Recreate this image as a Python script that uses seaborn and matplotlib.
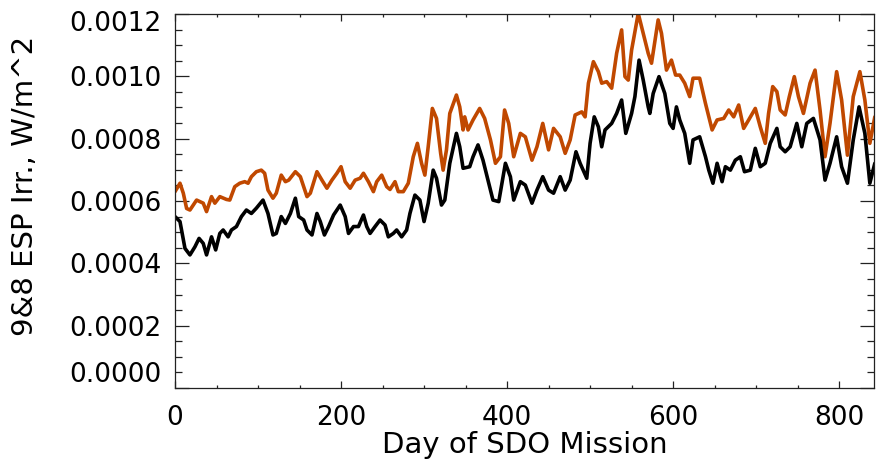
import matplotlib
matplotlib.use("Agg")
import matplotlib.pyplot as plt
import matplotlib.transforms as mtransforms
from matplotlib.ticker import MultipleLocator, FormatStrFormatter
import numpy as np
import pandas as pd
import seaborn as sns

# ---- data (irradiance in 1e-4 W/m^2) ----
orange_day = [0, 6, 10, 14, 18, 26, 34, 38, 44, 48, 54, 62, 66, 72, 78, 84, 88, 92, 98, 104,
              108, 112, 118, 122, 128, 133, 137, 145, 151, 155, 159, 163, 171, 177, 183, 189,
              195, 200, 205, 211, 217, 223, 227, 233, 239, 243, 249, 255, 259, 265, 269, 275,
              281, 287, 292, 297, 301, 305, 310, 315, 320, 323, 327, 331, 339, 343, 347, 349,
              353, 359, 367, 373, 380, 386, 392, 397, 402, 408, 416, 422, 430, 436, 443, 450,
              456, 464, 470, 476, 482, 490, 494, 498, 504, 510, 514, 520, 526, 532, 538, 542,
              546, 550, 558, 564, 570, 574, 582, 586, 592, 598, 603, 608, 614, 620, 624, 632,
              639, 647, 653, 661, 667, 673, 679, 685, 691, 699, 705, 711, 715, 720, 725, 729,
              735, 740, 746, 751, 757, 765, 771, 777, 783, 789, 797, 803, 810, 817, 825, 831,
              837, 843]
orange_val = [6.30, 6.57, 6.25, 5.76, 5.71, 6.03, 5.93, 5.66, 6.14, 5.93, 6.14, 6.05, 6.03, 6.46,
              6.57, 6.62, 6.57, 6.78, 6.94, 6.99, 6.89, 6.35, 6.09, 6.25, 6.83, 6.62, 6.67, 6.94,
              6.78, 6.46, 6.14, 6.25, 6.94, 6.67, 6.41, 6.67, 6.89, 7.10, 6.62, 6.41, 6.67, 6.73,
              6.89, 6.62, 6.30, 6.62, 6.83, 6.46, 6.37, 6.62, 6.30, 6.30, 6.57, 7.42, 7.85, 7.21,
              6.83, 7.74, 8.97, 8.65, 7.53, 6.99, 7.64, 8.81, 9.40, 9.02, 8.28, 8.70, 8.28, 8.60,
              8.97, 8.65, 7.96, 7.21, 7.42, 8.92, 8.49, 7.42, 8.17, 8.06, 7.31, 7.74, 8.49, 7.64,
              8.33, 8.06, 7.53, 7.96, 8.76, 8.86, 8.70, 9.78, 10.47, 10.15, 9.78, 9.83, 9.62, 10.74,
              11.49, 9.99, 9.88, 10.84, 12.02, 11.38, 10.74, 10.42, 11.81, 11.38, 10.20, 10.52,
              10.04, 10.04, 9.78, 9.35, 9.94, 9.94, 9.13, 8.28, 8.60, 8.65, 8.92, 8.70, 9.08, 8.33,
              8.60, 8.97, 8.38, 7.85, 8.81, 9.67, 9.51, 8.92, 8.76, 9.35, 9.99, 9.35, 8.81, 9.78,
              10.20, 8.92, 7.42, 8.49, 10.15, 9.24, 7.47, 9.35, 10.15, 9.24, 7.85, 8.70]

black_day = [0, 6, 12, 18, 24, 29, 34, 38, 44, 49, 54, 58, 64, 68, 74, 80, 86, 92, 98, 106,
             112, 118, 122, 128, 133, 139, 145, 149, 155, 159, 165, 171, 175, 180, 185, 191,
             199, 205, 209, 215, 221, 227, 231, 235, 241, 247, 253, 257, 263, 267, 273, 279,
             283, 289, 295, 300, 305, 311, 315, 321, 325, 331, 339, 343, 347, 355, 359, 365,
             371, 377, 383, 390, 398, 404, 408, 416, 422, 430, 436, 443, 450, 456, 464, 470,
             476, 483, 488, 496, 500, 505, 510, 514, 518, 526, 532, 538, 543, 550, 554, 559,
             564, 570, 572, 576, 583, 590, 596, 600, 604, 608, 614, 620, 624, 632, 639, 643,
             648, 653, 659, 663, 669, 675, 681, 686, 693, 699, 705, 711, 717, 725, 729, 735,
             741, 749, 755, 761, 769, 777, 783, 789, 797, 803, 810, 817, 824, 831, 837, 843]
black_val = [5.50, 5.34, 4.48, 4.27, 4.53, 4.80, 4.64, 4.27, 4.85, 4.43, 4.96, 5.07, 4.85, 5.07,
             5.18, 5.50, 5.71, 5.60, 5.77, 6.03, 5.60, 4.91, 4.96, 5.50, 5.28, 5.60, 6.09, 5.50,
             5.39, 5.07, 4.91, 5.60, 5.34, 4.91, 5.18, 5.55, 5.87, 5.50, 4.96, 5.18, 5.18, 5.55,
             5.18, 4.96, 5.18, 5.39, 5.23, 4.85, 4.96, 5.07, 4.85, 5.07, 5.60, 6.19, 6.03, 5.34,
             5.93, 6.99, 6.73, 5.87, 6.03, 7.21, 8.17, 7.74, 7.05, 7.10, 7.42, 7.80, 7.31, 6.67,
             6.03, 5.98, 7.21, 6.78, 6.03, 6.62, 6.51, 5.93, 6.35, 6.78, 6.35, 6.25, 6.78, 6.35,
             6.67, 7.58, 7.21, 6.73, 7.85, 8.70, 8.38, 7.74, 8.28, 8.49, 8.81, 9.24, 8.17, 8.81,
             9.35, 10.52, 9.88, 9.02, 8.81, 9.45, 9.99, 9.45, 8.49, 8.33, 9.02, 8.60, 8.17, 7.21,
             7.96, 8.06, 7.42, 6.99, 6.57, 7.21, 6.62, 7.10, 6.99, 7.31, 7.42, 6.94, 6.99, 7.69,
             7.10, 7.21, 7.85, 8.33, 7.74, 7.58, 7.74, 8.49, 7.74, 8.49, 8.65, 7.96, 6.67, 7.21,
             8.06, 7.10, 6.57, 7.96, 9.02, 8.17, 6.57, 7.21]

x_label = "Day of SDO Mission"
y_label = "9&8 ESP Irr., W/m^2"

orange_df = pd.DataFrame({"day": orange_day, "irr": np.array(orange_val) * 1e-4})
black_df = pd.DataFrame({"day": black_day, "irr": np.array(black_val) * 1e-4})

sns.set_style("white")
plt.rcParams["font.family"] = ["DejaVu Sans"]

fig = plt.figure(figsize=(8.76, 4.68), dpi=100)
ax = fig.add_axes([175 / 876, 80 / 468, 699 / 876, 374 / 468])

sns.lineplot(data=orange_df, x="day", y="irr", ax=ax, color="#C04800", linewidth=2.6)
sns.lineplot(data=black_df, x="day", y="irr", ax=ax, color="black", linewidth=2.6)

ax.set_xlim(0, 842)
ax.set_ylim(0, 0.0012)
ax.xaxis.set_major_locator(MultipleLocator(200))
ax.xaxis.set_minor_locator(MultipleLocator(50))
ax.yaxis.set_major_locator(MultipleLocator(0.0002))
ax.yaxis.set_minor_locator(MultipleLocator(0.00005))
ax.yaxis.set_major_formatter(FormatStrFormatter("%.4f"))

for s in ax.spines.values():
    s.set_visible(True)
    s.set_linewidth(0.9)
    s.set_color("#222222")

ax.tick_params(axis="both", which="both", direction="in",
               bottom=True, left=True, top=True, right=True,
               colors="#222222", width=0.9, labelcolor="black", labelsize=19)
ax.tick_params(axis="x", which="major", length=5, pad=12)
ax.tick_params(axis="x", which="minor", length=2.5)
ax.tick_params(axis="y", which="major", length=10, pad=10)
ax.tick_params(axis="y", which="minor", length=5)

ax.set_xlabel(x_label, fontsize=21, color="black")
ax.set_ylabel(y_label, fontsize=21, color="black")
ax.xaxis.set_label_coords(0.5, -0.174)
ax.xaxis.label.set_va("baseline")
ax.yaxis.set_label_coords(-0.214, 0.54)
ax.yaxis.label.set_va("center")

fig.canvas.draw()
yt = ax.yaxis.get_major_ticks()
locs = ax.get_yticks()
for t, v in zip(yt, locs):
    if abs(v) < 1e-9:
        t.label1.set_va("bottom")
    elif abs(v - 0.0012) < 1e-9:
        t.label1.set_va("center_baseline")
        t.label1.set_transform(t.label1.get_transform() +
                               mtransforms.ScaledTranslation(0, -7 / 100, fig.dpi_scale_trans))

fig.savefig("out.png", dpi=100)
